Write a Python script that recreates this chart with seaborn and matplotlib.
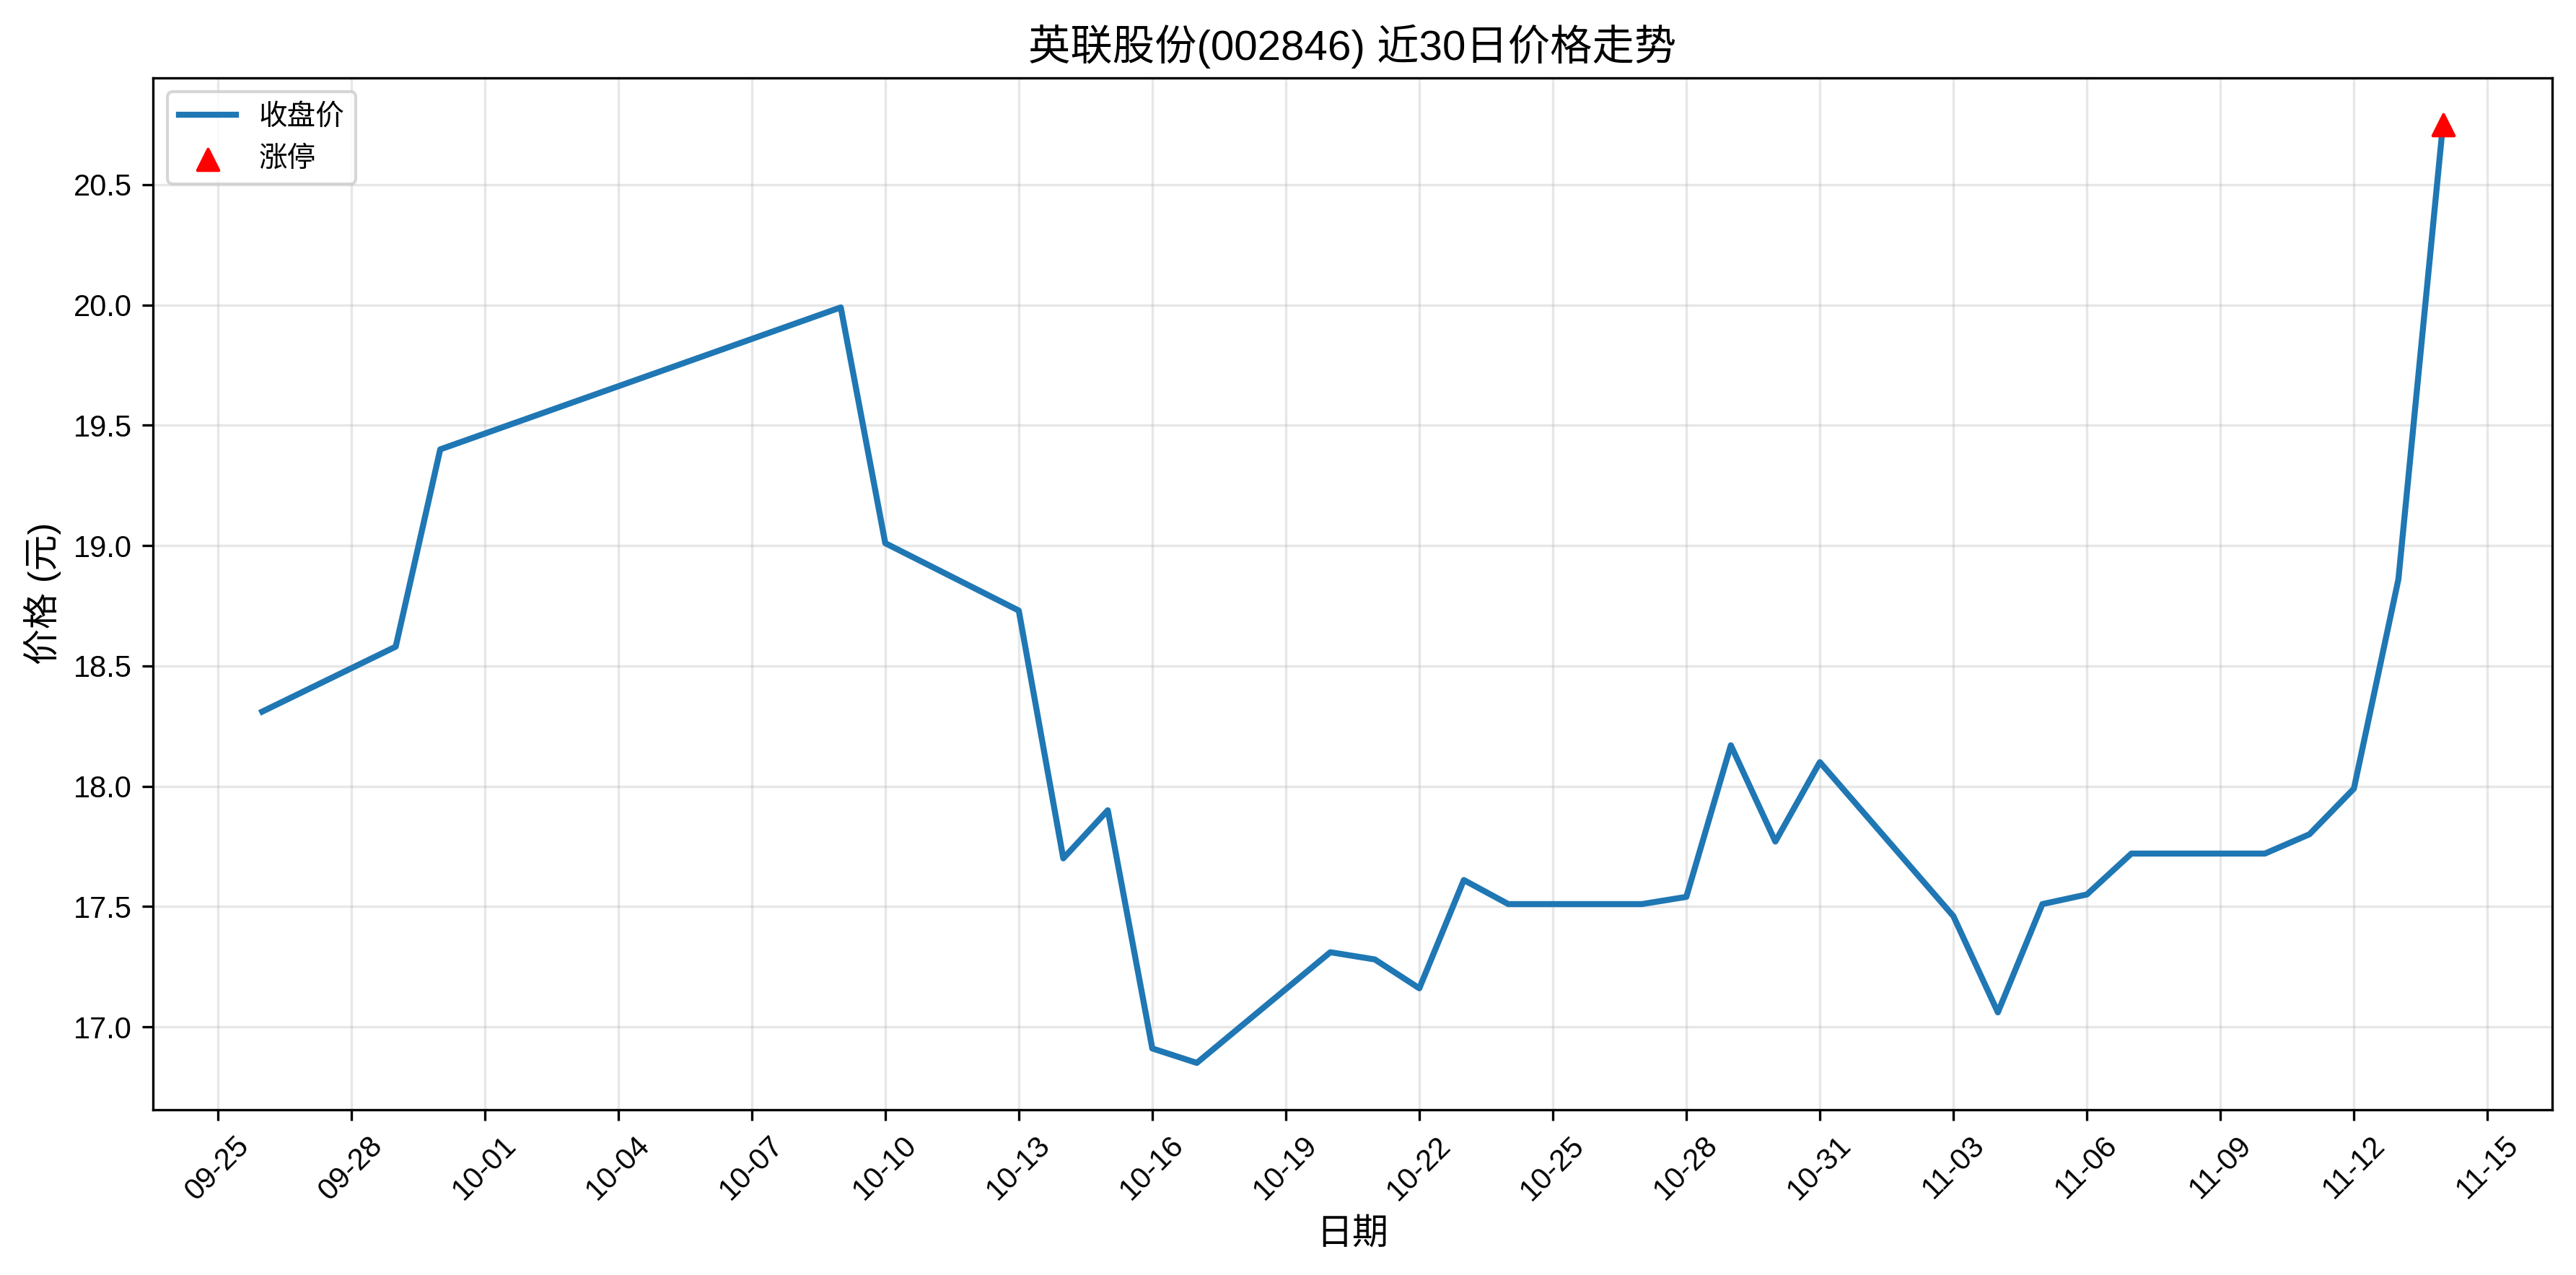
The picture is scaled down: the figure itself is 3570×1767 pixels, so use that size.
import matplotlib
matplotlib.use("Agg")
import matplotlib.pyplot as plt
import matplotlib.dates as mdates
import pandas as pd
import seaborn as sns

dates = ["2025-09-26", "2025-09-29", "2025-09-30", "2025-10-09", "2025-10-10",
         "2025-10-13", "2025-10-14", "2025-10-15", "2025-10-16", "2025-10-17",
         "2025-10-20", "2025-10-21", "2025-10-22", "2025-10-23", "2025-10-24",
         "2025-10-27", "2025-10-28", "2025-10-29", "2025-10-30", "2025-10-31",
         "2025-11-03", "2025-11-04", "2025-11-05", "2025-11-06", "2025-11-07",
         "2025-11-10", "2025-11-11", "2025-11-12", "2025-11-13", "2025-11-14"]
close = [18.31, 18.58, 19.40, 19.99, 19.01,
         18.73, 17.70, 17.90, 16.91, 16.85,
         17.31, 17.28, 17.16, 17.61, 17.51,
         17.51, 17.54, 18.17, 17.77, 18.10,
         17.46, 17.06, 17.51, 17.55, 17.72,
         17.72, 17.80, 17.99, 18.86, 20.75]
limit_up_dates = ["2025-11-14"]
limit_up_prices = [20.75]

plt.rcParams["font.family"] = ["Liberation Sans", "Noto Sans CJK SC", "DejaVu Sans"]
plt.rcParams["axes.unicode_minus"] = False

df = pd.DataFrame({"date": pd.to_datetime(dates), "close": close})
lu = pd.DataFrame({"date": pd.to_datetime(limit_up_dates), "close": limit_up_prices})

fig, ax = plt.subplots(figsize=(11.9, 5.89), dpi=300)
sns.lineplot(data=df, x="date", y="close", ax=ax, color="#1f77b4", linewidth=2, label="收盘价")
ax.scatter(lu["date"], lu["close"], color="red", marker="^", s=50, zorder=5, label="涨停")

ax.set_title("英联股份(002846) 近30日价格走势", fontsize=14)
ax.set_xlabel("日期", fontsize=12)
ax.set_ylabel("价格 (元)", fontsize=12)
ax.set_xticks(pd.date_range("2025-09-25", "2025-11-15", freq="3D"))
ax.xaxis.set_major_formatter(mdates.DateFormatter("%m-%d"))
plt.setp(ax.get_xticklabels(), rotation=45)
ax.grid(True, alpha=0.3)
ax.legend(loc="upper left", fontsize=9.5)
fig.tight_layout(pad=0.8)
fig.savefig("out.png", dpi=300)
